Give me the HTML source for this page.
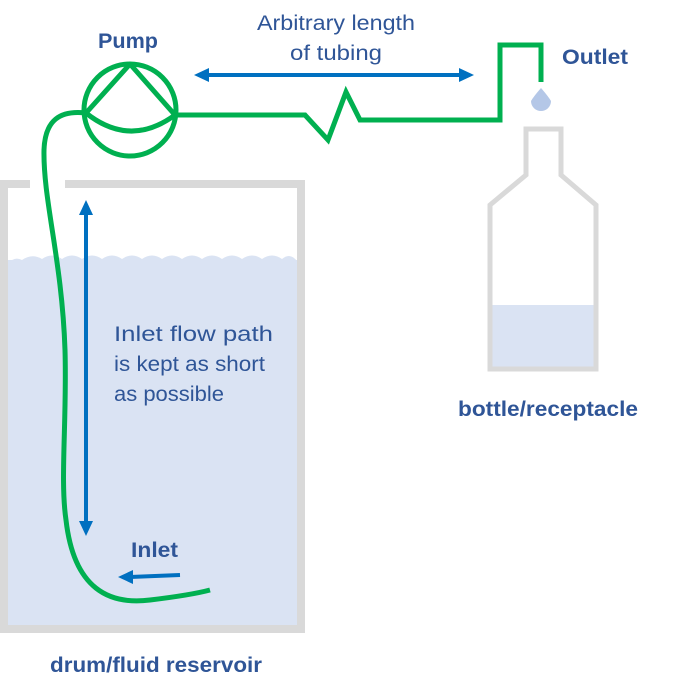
<!DOCTYPE html>
<html><head><style>
html,body{margin:0;padding:0;background:#fff;}
svg{display:block;}
text{font-family:"Liberation Sans",sans-serif;}
</style></head><body>
<svg width="685" height="697" viewBox="0 0 685 697" xmlns="http://www.w3.org/2000/svg">
<rect x="8" y="260" width="289" height="365" fill="#dae3f3"/>
<path d="M8 264 q6 -8 14 -4 q10 -7 20 -1 q10 -7 20 0 q10 -7 20 0 q10 -7 20 0 q10 -7 20 0 q10 -7 20 0 q10 -7 20 0 q10 -7 20 0 q10 -7 20 0 q10 -7 20 0 q10 -7 20 0 q10 -7 20 0 q10 -7 20 0 q8 -7 15 2 v10 h-289z" fill="#dae3f3"/>
<path d="M30 184 H4 V629 H301 V184 H65" fill="none" stroke="#d9d9d9" stroke-width="8"/>
<rect x="492" y="305" width="102" height="62" fill="#dae3f3"/>
<path d="M526 175 V129 H561 V175 L596 205 V369 H490 V205 Z" fill="none" stroke="#d9d9d9" stroke-width="5"/>
<path d="M541 88 Q534 96 531 101 A10 10 0 1 0 551 101 Q548 96 541 88Z" fill="#b4c7e7"/>
<g fill="none" stroke="#00b050" stroke-width="5" stroke-linejoin="miter">
<circle cx="130" cy="110" r="46"/>
<path d="M130 64 L86 113 M130 64 L175 115"/>
<path d="M86 113 Q130 148 175 115"/>
<path d="M175 115 H305 L328 140 L346 92 L360 120 H500 V45 H541 V82"/>
<path d="M86 113 C60 110 45 120 44 150 C43 200 62 260 65 350 C67 420 60 480 66 520 C74 590 110 605 150 600 C175 597 195 594 210 590"/>
</g>
<g stroke="#0070c0" stroke-width="4" fill="#0070c0">
<line x1="206" y1="75" x2="462" y2="75"/>
<line x1="86" y1="212" x2="86" y2="523"/>
<line x1="180" y1="575" x2="130" y2="577"/>
</g>
<g fill="#0070c0">
<path d="M194 75 L209 68 L209 82Z"/>
<path d="M474 75 L459 68 L459 82Z"/>
<path d="M86 200 L79 215 L93 215Z"/>
<path d="M86 536 L79 521 L93 521Z"/>
<path d="M118 577 L133 570 L133 584Z"/>
</g>
<g fill="#2f5597" font-size="21">
<text x="98" y="48" font-weight="bold" textLength="60" lengthAdjust="spacingAndGlyphs">Pump</text>
<text x="257" y="30" textLength="158" lengthAdjust="spacingAndGlyphs">Arbitrary length</text>
<text x="290" y="60" textLength="92" lengthAdjust="spacingAndGlyphs">of tubing</text>
<text x="562" y="64" font-weight="bold" textLength="66" lengthAdjust="spacingAndGlyphs">Outlet</text>
<text x="114" y="341" textLength="159" lengthAdjust="spacingAndGlyphs">Inlet flow path</text>
<text x="114" y="371" textLength="151" lengthAdjust="spacingAndGlyphs">is kept as short</text>
<text x="114" y="401" textLength="110" lengthAdjust="spacingAndGlyphs">as possible</text>
<text x="131" y="557" font-weight="bold" textLength="47" lengthAdjust="spacingAndGlyphs">Inlet</text>
<text x="50" y="672" font-weight="bold" textLength="212" lengthAdjust="spacingAndGlyphs">drum/fluid reservoir</text>
<text x="458" y="416" font-weight="bold" textLength="180" lengthAdjust="spacingAndGlyphs">bottle/receptacle</text>
</g>
</svg>
</body></html>
